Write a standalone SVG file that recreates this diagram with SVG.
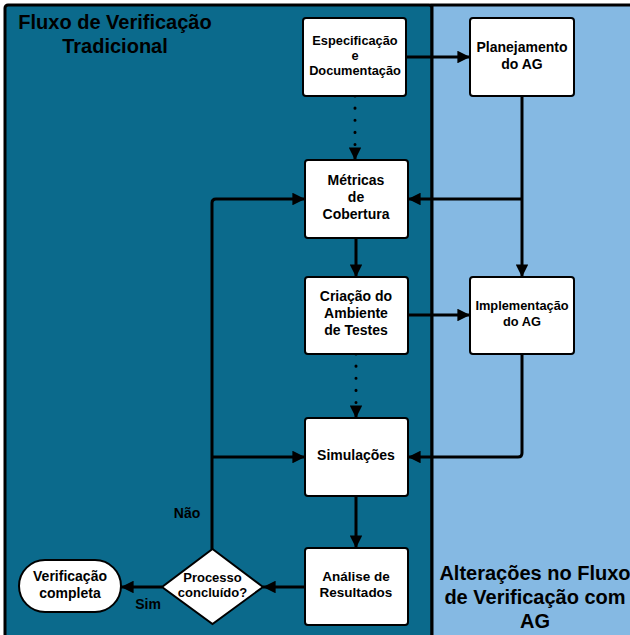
<svg xmlns="http://www.w3.org/2000/svg" width="630" height="635" viewBox="0 0 630 635">
<style>
.panel{stroke:#000;stroke-width:3}
.box{fill:#fff;stroke:#000;stroke-width:2}
.t{font-family:"Liberation Sans",Arial,sans-serif;font-weight:bold;fill:#000;text-anchor:middle}
.c{fill:none;stroke:#000;stroke-width:3}
.d{fill:none;stroke:#000;stroke-width:3;stroke-dasharray:0.1 12;stroke-linecap:round}
</style>
<defs>
<marker id="ah" viewBox="0 0 10 10" refX="10" refY="5" markerWidth="4.2" markerHeight="4.2" orient="auto" markerUnits="strokeWidth">
<path d="M0,0 L10,5 L0,10 z" fill="#000"/>
</marker>
</defs>
<rect width="630" height="635" fill="#fff"/>
<g id="panel-left">
<rect class="panel" x="5" y="5" width="427" height="640" rx="3" fill="#0b6a8c"/>
<text class="t" x="115" y="29" font-size="20">Fluxo de Verificação</text>
<text class="t" x="115" y="53" font-size="20">Tradicional</text>
</g>
<g id="panel-right">
<rect class="panel" x="432" y="5" width="210" height="640" fill="#85b9e3"/>
<text class="t" x="535" y="580" font-size="20">Alterações no Fluxo</text>
<text class="t" x="535" y="604" font-size="20">de Verificação com</text>
<text class="t" x="535" y="628" font-size="20">AG</text>
</g>
<g id="connectors">
<path class="c" d="M406,57 H470" marker-end="url(#ah)"/>
<path class="d" d="M355,96 V150"/>
<path class="c" d="M355,150 V160" marker-end="url(#ah)"/>
<path class="c" d="M522,96 V277" marker-end="url(#ah)"/>
<path class="c" d="M522,199 H408" marker-end="url(#ah)"/>
<path class="c" d="M356,238 V277" marker-end="url(#ah)"/>
<path class="c" d="M408,315 H470" marker-end="url(#ah)"/>
<path class="d" d="M356,354 V408"/>
<path class="c" d="M356,408 V418" marker-end="url(#ah)"/>
<path class="c" d="M522,354 V453 Q522,457 518,457 H408" marker-end="url(#ah)"/>
<path class="c" d="M356,496 V548" marker-end="url(#ah)"/>
<path class="c" d="M305,587 H263" marker-end="url(#ah)"/>
<path class="c" d="M162,587 H121" marker-end="url(#ah)"/>
<path class="c" d="M212,549 V203 Q212,199 216,199 H305" marker-end="url(#ah)"/>
<path class="c" d="M212,457 H305" marker-end="url(#ah)"/>
<text class="t" x="187" y="518" font-size="14">Não</text>
<text class="t" x="148" y="609" font-size="14">Sim</text>
</g>
<g id="espec">
<rect class="box" x="303" y="18" width="103" height="78" rx="3"/>
<text class="t" x="355" y="45" font-size="12.8">Especificação</text>
<text class="t" x="355" y="60" font-size="12.8">e</text>
<text class="t" x="355" y="75" font-size="12.8">Documentação</text>
</g>
<g id="planejamento">
<rect class="box" x="470" y="18" width="104" height="78" rx="3"/>
<text class="t" x="522" y="52" font-size="14">Planejamento</text>
<text class="t" x="522" y="69" font-size="14">do AG</text>
</g>
<g id="metricas">
<rect class="box" x="305" y="160" width="103" height="78" rx="3"/>
<text class="t" x="356" y="185" font-size="14">Métricas</text>
<text class="t" x="356" y="202" font-size="14">de</text>
<text class="t" x="356" y="219" font-size="14">Cobertura</text>
</g>
<g id="criacao">
<rect class="box" x="305" y="277" width="103" height="77" rx="3"/>
<text class="t" x="356" y="301" font-size="14">Criação do</text>
<text class="t" x="356" y="318" font-size="14">Ambiente</text>
<text class="t" x="356" y="335" font-size="14">de Testes</text>
</g>
<g id="implementacao">
<rect class="box" x="470" y="277" width="104" height="77" rx="3"/>
<text class="t" x="522" y="310" font-size="12.8">Implementação</text>
<text class="t" x="522" y="326" font-size="12.8">do AG</text>
</g>
<g id="simulacoes">
<rect class="box" x="305" y="418" width="103" height="78" rx="3"/>
<text class="t" x="356" y="460" font-size="14">Simulações</text>
</g>
<g id="analise">
<rect class="box" x="305" y="548" width="103" height="77" rx="3"/>
<text class="t" x="356" y="581" font-size="13.5">Análise de</text>
<text class="t" x="356" y="597" font-size="13.5">Resultados</text>
</g>
<g id="decisao">
<polygon class="box" points="212.5,549 263,587 212.5,624 162,587"/>
<text class="t" x="212.5" y="582" font-size="13">Processo</text>
<text class="t" x="212.5" y="597" font-size="13">concluído?</text>
</g>
<g id="verificacao-completa">
<rect class="box" x="19" y="560" width="102" height="52" rx="26"/>
<text class="t" x="70" y="581" font-size="14">Verificação</text>
<text class="t" x="70" y="598" font-size="14">completa</text>
</g>
</svg>
